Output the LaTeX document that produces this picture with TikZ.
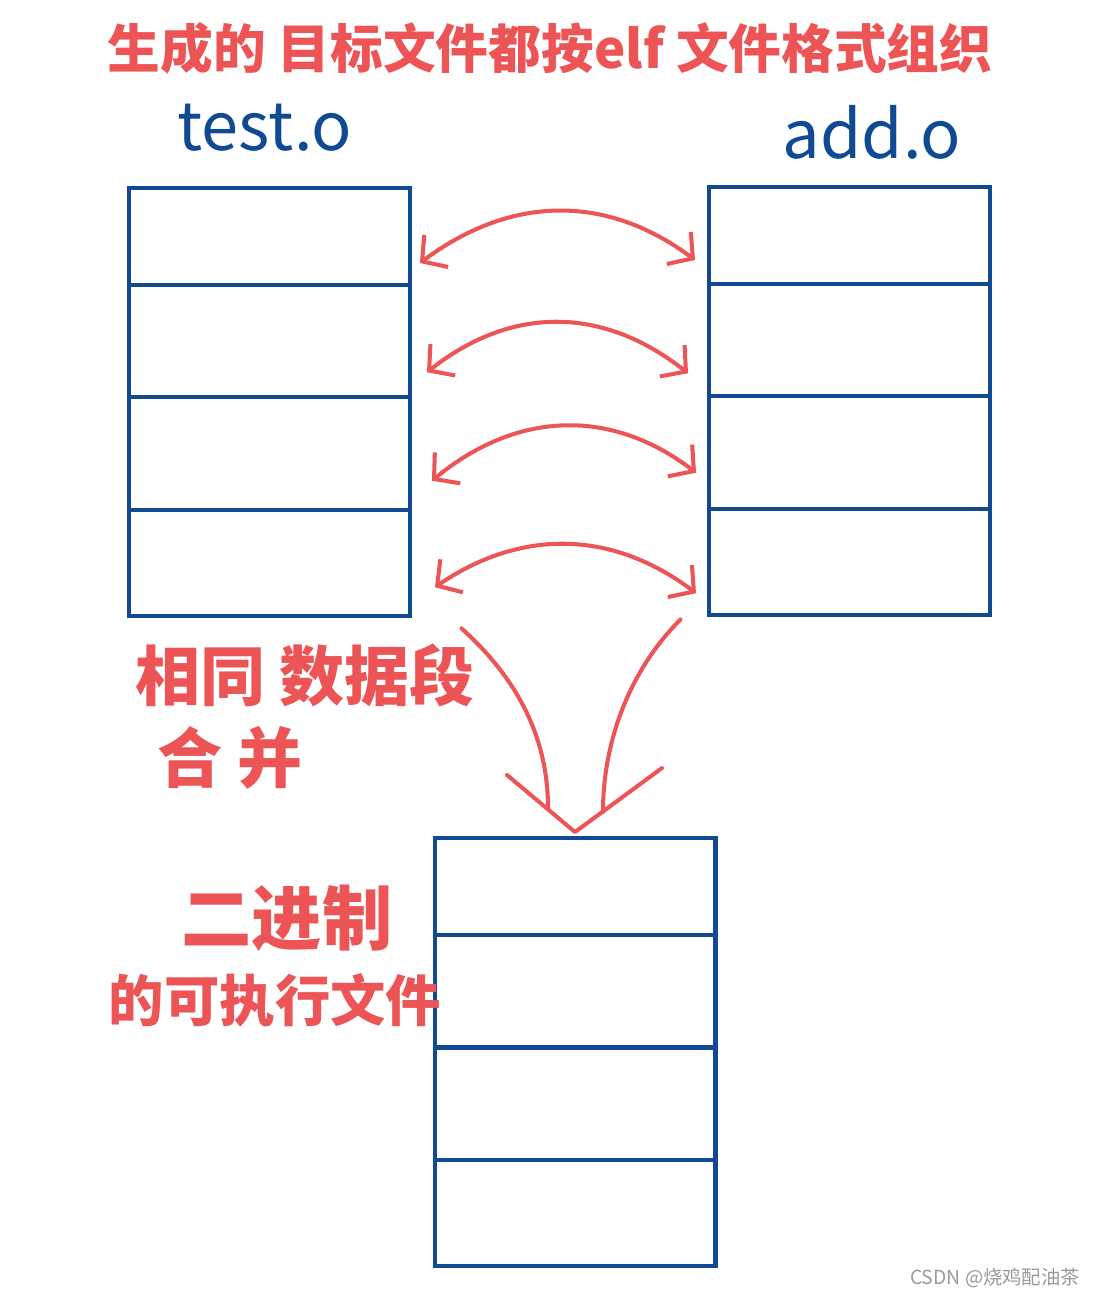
\documentclass[tikz,border=0pt]{standalone}
\usepackage{fontspec}
\setmainfont{Noto Sans CJK SC}
\newfontfamily\cjk{Noto Sans CJK SC}
\usetikzlibrary{arrows.meta, positioning}
\definecolor{InkBlue}{HTML}{0F4A92}
\definecolor{PenRed}{HTML}{EC5456}
\definecolor{MarkGray}{HTML}{9A9A9A}
\tikzset{
  cell/.style={draw=InkBlue, line width=2.3pt, minimum width=5.62cm, minimum height=2.25cm, inner sep=0pt, outer sep=0pt},
  topcell/.style={cell, minimum height=1.94cm},
  endcell/.style={cell, minimum height=2.13cm},
  label/.style={text=InkBlue, font=\fontsize{38}{40}\selectfont},
  note/.style={text=PenRed, font=\cjk\bfseries\fontsize{30}{34}\selectfont, align=center},
  swap/.style={{Straight Barb[length=3.5mm, width=8mm]}-{Straight Barb[length=3.5mm, width=8mm]}, line width=2.3pt, draw=PenRed},
  merge/.style={line width=2.3pt, draw=PenRed, line cap=round, line join=round}
}
\begin{document}
\begin{tikzpicture}[x=0.02cm, y=-0.02cm]
\useasboundingbox[fill=white] (0,0) rectangle (1097,1298);
% object files
\node[topcell] (test1) at (269.5,236.5) {};
\node[cell, below=0pt of test1] (test2) {};
\node[cell, below=0pt of test2] (test3) {};
\node[endcell, below=0pt of test3] (test4) {};
\node[topcell] (add1) at (849.5,235.5) {};
\node[cell, below=0pt of add1] (add2) {};
\node[cell, below=0pt of add2] (add3) {};
\node[endcell, below=0pt of add3] (add4) {};
% executable
\node[topcell] (exe1) at (575,886.5) {};
\node[cell, below=0pt of exe1] (exe2) {};
\node[cell, below=0pt of exe2] (exe3) {};
\node[endcell, below=0pt of exe3] (exe4) {};

\node[note] (title) at (550,48) {生成的 目标文件都按elf 文件格式组织};
\node[label] (testname) at (265,128) {test.o};
\node[label] (addname) at (872,132) {add.o};
\node[note, font=\cjk\bfseries\fontsize{37}{40}\selectfont] (same) at (305,675) {相同 数据段};
\node[note, font=\cjk\bfseries\fontsize{37}{40}\selectfont] (join) at (230,758) {合 并};
\node[note, font=\cjk\bfseries\fontsize{40}{44}\selectfont] (bin) at (287,918) {二进制};
\node[note, font=\cjk\bfseries\fontsize{31.5}{34}\selectfont] (exec) at (275,1000) {的可执行文件};
\node[text=MarkGray, font=\cjk\fontsize{11}{13}\selectfont] (mark) at (995,1278) {CSDN @烧鸡配油茶};

\draw[swap] ([shift={(10,26.5)}]test1.east) .. controls +(90,-67) and +(-90,-67) .. ([shift={(-14,24.5)}]add1.west);
\draw[swap] ([shift={(17,31)}]test2.east) .. controls +(85,-67) and +(-85,-67) .. ([shift={(-21,33)}]add2.west);
\draw[swap] ([shift={(22,27)}]test3.east) .. controls +(85,-70) and +(-85,-65) .. ([shift={(-13,20)}]add3.west);
\draw[swap] ([shift={(25,24)}]test4.east) .. controls +(85,-58) and +(-85,-64) .. ([shift={(-13,31)}]add4.west);

\coordinate (tip) at ([shift={(0,-6)}]exe1.north);
\draw[merge] ([shift={(-68,-57)}]tip) -- (tip) -- ([shift={(87,-64)}]tip);
\draw[merge] ([shift={(192,12)}]test4.south) .. controls +(58,52) and +(0,-68) .. ([shift={(-27,-24)}]tip);
\draw[merge] ([shift={(-169,4)}]add4.south) .. controls +(-50,50) and +(0,-72) .. ([shift={(28,-20)}]tip);
\end{tikzpicture}
\end{document}
